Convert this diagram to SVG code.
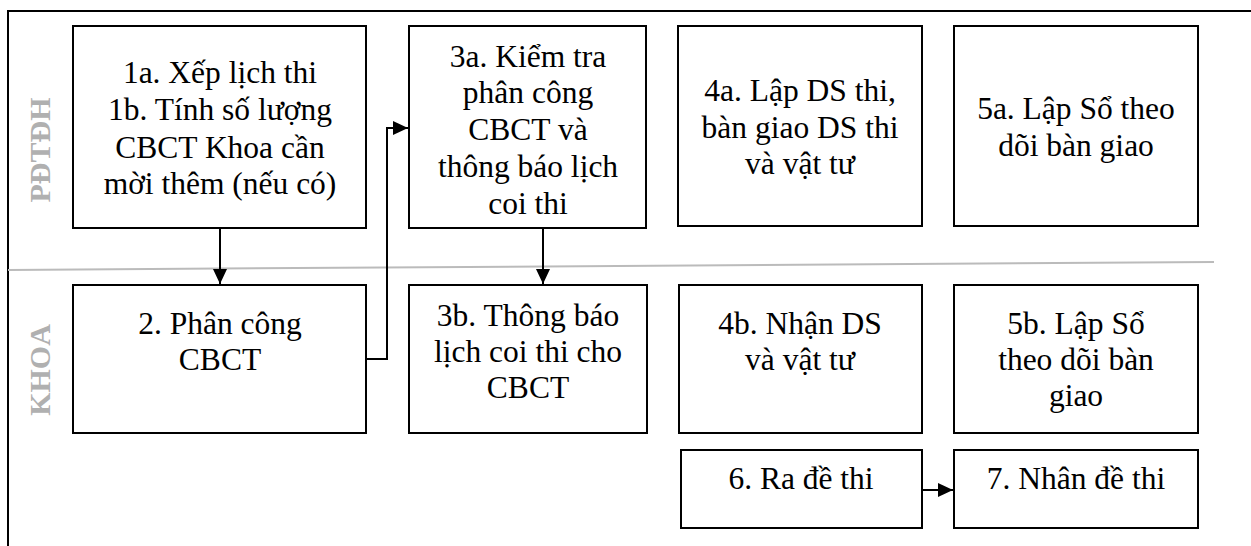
<svg xmlns="http://www.w3.org/2000/svg" width="1251" height="546" viewBox="0 0 1251 546">
  <style>
    .box { fill: #ffffff; stroke: #000000; stroke-width: 2; }
    .lbl { font-family: 'Liberation Serif', 'Times New Roman', Times, serif; font-size: 31.5px; fill: #000000; text-anchor: middle; }
    .lane { font-family: 'Liberation Serif', 'Times New Roman', Times, serif; font-size: 30px; font-weight: bold; fill: #b0b0b0; text-anchor: middle; }
    .wire { fill: none; stroke: #000000; stroke-width: 2; }
  </style>
  <defs>
    <marker id="arrow" viewBox="0 0 10 10" refX="10" refY="5" markerWidth="7.5" markerHeight="7" markerUnits="strokeWidth" orient="auto" preserveAspectRatio="none">
      <path d="M0,0 L10,5 L0,10 Z" fill="#000000"/>
    </marker>
  </defs>

  <rect width="1251" height="546" fill="#ffffff"/>

  <!-- swimlane frame -->
  <g id="frame">
    <path d="M8,560 L8,11 L1260,11" fill="none" stroke="#000000" stroke-width="2"/>
    <line x1="8" y1="270" x2="1214" y2="262" stroke="#bbbbbb" stroke-width="2"/>
    <text class="lane" transform="translate(50,150) rotate(-90)">PĐTĐH</text>
    <text class="lane" transform="translate(50,370) rotate(-90)">KHOA</text>
  </g>

  <!-- connectors -->
  <g id="connectors">
    <line class="wire" x1="220" y1="228" x2="220" y2="284" marker-end="url(#arrow)"/>
    <polyline class="wire" points="366,359 387,359 387,128 408,128" marker-end="url(#arrow)"/>
    <line class="wire" x1="543" y1="228" x2="543" y2="284" marker-end="url(#arrow)"/>
    <line class="wire" x1="922" y1="490" x2="953" y2="490" marker-end="url(#arrow)"/>
  </g>

  <g id="n1a">
    <rect class="box" x="73" y="26" width="293" height="202"/>
    <text class="lbl" x="220" y="83">1a. Xếp lịch thi</text>
    <text class="lbl" x="220" y="120">1b. Tính số lượng</text>
    <text class="lbl" x="220" y="158">CBCT Khoa cần</text>
    <text class="lbl" x="220" y="194">mời thêm (nếu có)</text>
  </g>

  <g id="n3a">
    <rect class="box" x="409" y="26" width="237" height="202"/>
    <text class="lbl" x="528" y="67">3a. Kiểm tra</text>
    <text class="lbl" x="528" y="103">phân công</text>
    <text class="lbl" x="528" y="140">CBCT và</text>
    <text class="lbl" x="528" y="177">thông báo lịch</text>
    <text class="lbl" x="528" y="214">coi thi</text>
  </g>

  <g id="n4a">
    <rect class="box" x="678" y="26" width="244" height="200"/>
    <text class="lbl" x="800" y="101">4a. Lập DS thi,</text>
    <text class="lbl" x="800" y="138">bàn giao DS thi</text>
    <text class="lbl" x="800" y="174">và vật tư</text>
  </g>

  <g id="n5a">
    <rect class="box" x="954" y="26" width="244" height="200"/>
    <text class="lbl" x="1076" y="119">5a. Lập Sổ theo</text>
    <text class="lbl" x="1076" y="156">dõi bàn giao</text>
  </g>

  <g id="n2">
    <rect class="box" x="73" y="285" width="293" height="148"/>
    <text class="lbl" x="220" y="334">2. Phân công</text>
    <text class="lbl" x="220" y="370">CBCT</text>
  </g>

  <g id="n3b">
    <rect class="box" x="409" y="285" width="238" height="148"/>
    <text class="lbl" x="528" y="326">3b. Thông báo</text>
    <text class="lbl" x="528" y="362">lịch coi thi cho</text>
    <text class="lbl" x="528" y="398">CBCT</text>
  </g>

  <g id="n4b">
    <rect class="box" x="679" y="285" width="243" height="148"/>
    <text class="lbl" x="800" y="334">4b. Nhận DS</text>
    <text class="lbl" x="800" y="370">và vật tư</text>
  </g>

  <g id="n5b">
    <rect class="box" x="954" y="285" width="244" height="148"/>
    <text class="lbl" x="1076" y="334">5b. Lập Sổ</text>
    <text class="lbl" x="1076" y="370">theo dõi bàn</text>
    <text class="lbl" x="1076" y="406">giao</text>
  </g>

  <g id="n6">
    <rect class="box" x="681" y="450" width="241" height="78"/>
    <text class="lbl" x="801" y="489">6. Ra đề thi</text>
  </g>

  <g id="n7">
    <rect class="box" x="954" y="450" width="244" height="78"/>
    <text class="lbl" x="1076" y="489">7. Nhân đề thi</text>
  </g>
</svg>
